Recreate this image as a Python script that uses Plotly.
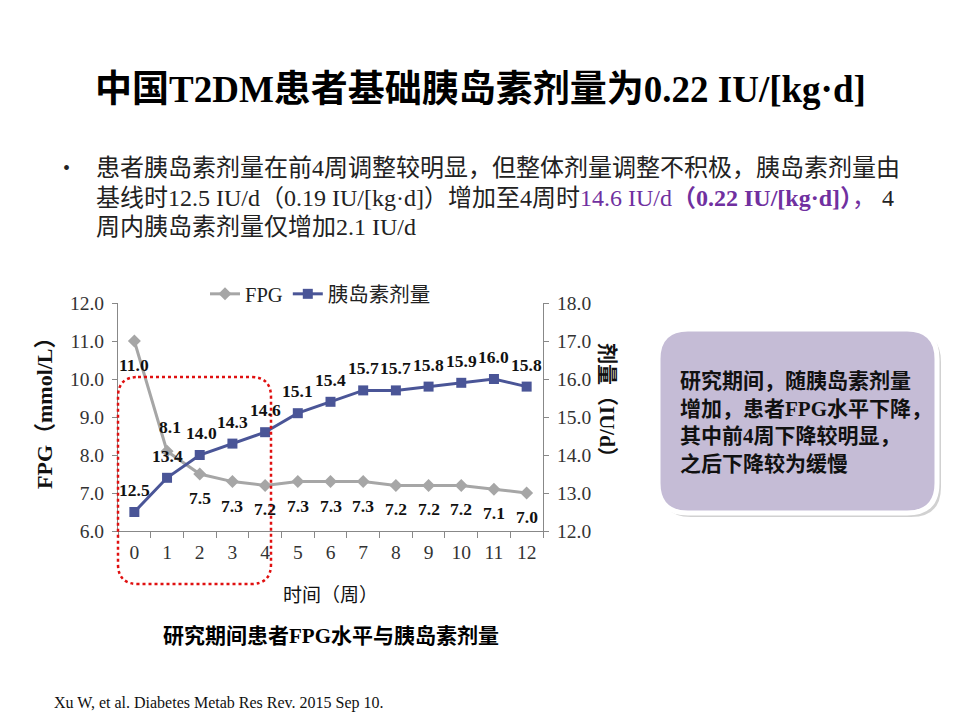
import plotly.graph_objects as go

weeks = [str(i) for i in range(13)]
fpg = [11.0, 8.1, 7.5, 7.3, 7.2, 7.3, 7.3, 7.3, 7.2, 7.2, 7.2, 7.1, 7.0]
insulin = [12.5, 13.4, 14.0, 14.3, 14.6, 15.1, 15.4, 15.7, 15.7, 15.8, 15.9, 16.0, 15.8]

W, H = 960, 720
OFF = 8  # page body margin compensation
def px(x): return (x - OFF) / W
def py(y): return 1 - (y - OFF) / H

SERIF_CJK = "Liberation Serif, 'Noto Sans CJK SC'"
SANS_CJK = "'Noto Sans CJK SC', Liberation Serif"

GRAY = "#A6A6A6"
BLUE = "#4A5597"

fig = go.Figure()
fig.add_trace(go.Scatter(x=weeks, y=fpg, name="FPG", mode="lines+markers",
                         line=dict(color=GRAY, width=3),
                         marker=dict(symbol="diamond", size=10, color=GRAY),
                         yaxis="y"))
fig.add_trace(go.Scatter(x=weeks, y=insulin, name="胰岛素剂量", mode="lines+markers",
                         line=dict(color=BLUE, width=3),
                         marker=dict(symbol="square", size=10, color=BLUE),
                         yaxis="y2"))

ann = []
lab_font = dict(family=SERIF_CJK, size=17.5, color="#111")
for i, (w, v) in enumerate(zip(weeks, fpg)):
    xs, ys = 0, -24
    if i == 1:
        xs, ys = 3, 24
    ann.append(dict(x=w, y=v, xref="x", yref="y", text=f"<b>{v:.1f}</b>",
                    showarrow=False, xshift=xs, yshift=ys, font=lab_font,
                    xanchor="center", yanchor="middle"))
for i, (w, v) in enumerate(zip(weeks, insulin)):
    ann.append(dict(x=w, y=v, xref="x", yref="y2", text=f"<b>{v:.1f}</b>",
                    showarrow=False, xshift=2 if i == 2 else 0, yshift=22, font=lab_font,
                    xanchor="center", yanchor="middle"))

def pann(x, y, text, font, xanchor="center", textangle=0):
    ann.append(dict(x=px(x), y=py(y), xref="paper", yref="paper", showarrow=False,
                    xanchor=xanchor, yanchor="middle", text=text, font=font,
                    textangle=textangle))

# Title
pann(480, 89, "<b>中国T2DM患者基础胰岛素剂量为0.22 IU/[kg·d]</b>",
     dict(family=SERIF_CJK, size=37, color="#000"))
# Bullet
pann(66, 168, "•", dict(family=SERIF_CJK, size=20, color="#222"))
bullet_font = dict(family=SERIF_CJK, size=24, color="#222")
lines = [
    "患者胰岛素剂量在前4周调整较明显，但整体剂量调整不积极，胰岛素剂量由",
    "基线时12.5 IU/d（0.19 IU/[kg·d]）增加至4周时<span style='color:#7030A0'>14.6 IU/d<b>（0.22 IU/[kg·d]）</b>，</span> 4",
    "周内胰岛素剂量仅增加2.1 IU/d",
]
for t, yy in zip(lines, [168, 198, 227]):
    pann(94, yy, t, bullet_font, xanchor="left")

# Axis titles
pann(44, 408, "<b>FPG（mmol/L）</b>", dict(family=SERIF_CJK, size=22, color="#111"), textangle=-90)
pann(607, 405, "<b>剂量（IU/d）</b>", dict(family=SERIF_CJK, size=21, color="#111"), textangle=90)
pann(330, 593, "时间（周）", dict(family=SANS_CJK, size=19, color="#111"))
pann(331, 636, "<b>研究期间患者FPG水平与胰岛素剂量</b>", dict(family=SERIF_CJK, size=21, color="#000"))
pann(52, 703, "Xu W, et al. Diabetes Metab Res Rev. 2015 Sep 10.",
     dict(family="Liberation Serif", size=16, color="#111"), xanchor="left")

# Box text
box_lines = ["研究期间，随胰岛素剂量", "增加，患者FPG水平下降，", "其中前4周下降较明显，", "之后下降较为缓慢"]
for t, yy in zip(box_lines, [381, 409, 436, 464]):
    pann(678, yy, f"<b>{t}</b>", dict(family=SERIF_CJK, size=21, color="#111"), xanchor="left")

def rrect(x0, y0, x1, y1, r):
    rx, ry = r / W, r / H
    X0, X1 = px(x0), px(x1)
    Y0, Y1 = py(y0), py(y1)  # Y0 top (larger), Y1 bottom
    return (f"M {X0+rx},{Y0} L {X1-rx},{Y0} Q {X1},{Y0} {X1},{Y0-ry} "
            f"L {X1},{Y1+ry} Q {X1},{Y1} {X1-rx},{Y1} "
            f"L {X0+rx},{Y1} Q {X0},{Y1} {X0},{Y1+ry} "
            f"L {X0},{Y0-ry} Q {X0},{Y0} {X0+rx},{Y0} Z")

shapes = [
    dict(type="path", xref="paper", yref="paper", path=rrect(661, 332, 941, 517, 30),
         fillcolor="rgba(0,0,0,0.18)", line=dict(width=0), layer="below"),
    dict(type="path", xref="paper", yref="paper", path=rrect(658, 329, 937, 513, 30),
         fillcolor="#C5BCD6", line=dict(color="white", width=5), layer="below"),
    dict(type="path", xref="paper", yref="paper", path=rrect(118, 377, 271, 584, 20),
         fillcolor="rgba(0,0,0,0)", line=dict(color="#E01010", width=2.5, dash="dot"),
         layer="above"),
]

tick_font = dict(family="Liberation Serif", size=19.5, color="#333")
fig.update_layout(
    width=W, height=H,
    margin=dict(l=0, r=0, t=0, b=0, pad=0, autoexpand=False),
    paper_bgcolor="white", plot_bgcolor="rgba(0,0,0,0)",
    showlegend=True,
    legend=dict(orientation="h", x=px(205), y=py(294), xanchor="left", yanchor="middle",
                font=dict(family=SERIF_CJK, size=20.5, color="#222"),
                bgcolor="rgba(0,0,0,0)", itemwidth=30, tracegroupgap=0),
    xaxis=dict(domain=[px(118), px(543)], type="category", range=[-0.5, 12.5],
               showline=True, linecolor="#888", linewidth=1.2,
               ticks="outside", tickson="boundaries", ticklen=6, tickcolor="#888",
               tickfont=tick_font, showgrid=False, zeroline=False, ticklabelstandoff=3),
    yaxis=dict(domain=[py(531), py(303)], range=[6, 12], dtick=1, tickformat=".1f",
               showline=True, linecolor="#888", linewidth=1.2,
               ticks="outside", ticklen=5, tickcolor="#888",
               tickfont=tick_font, showgrid=False, zeroline=False, ticklabelstandoff=4),
    yaxis2=dict(overlaying="y", side="right", anchor="x", range=[12, 18], dtick=1, tickformat=".1f",
                showline=True, linecolor="#888", linewidth=1.2,
                ticks="outside", ticklen=5, tickcolor="#888",
                tickfont=tick_font, showgrid=False, zeroline=False, ticklabelstandoff=4),
    annotations=ann,
    shapes=shapes,
)

fig.write_html("out.html")
